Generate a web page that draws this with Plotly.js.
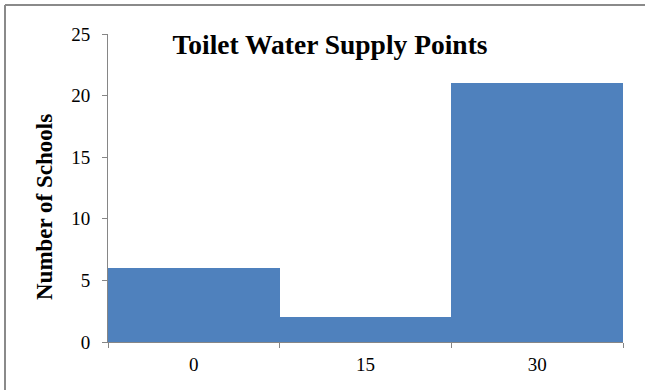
<!DOCTYPE html>
<html>
<head>
<meta charset="utf-8">
<script src="https://cdn.plot.ly/plotly-3.0.1.min.js"></script>
<style>
  html, body { margin: 0; padding: 0; background: #fff; }
  #chart { width: 645px; height: 390px; }
</style>
</head>
<body>
<div id="chart"></div>
<script>
// Toilet water supply points per school
const categories = ['0', '15', '30'];
const schoolCounts = [6, 2, 21];
const yTickValues = [0, 5, 10, 15, 20, 25];

const W = 645, H = 390;
const M = { l: 108, r: 22, t: 34, b: 48 };
const plotW = W - M.l - M.r, plotH = H - M.t - M.b;
const px = x => (x - M.l) / plotW;          // pixel -> paper x
const py = y => (H - M.b - y) / plotH;      // pixel -> paper y

const positions = categories.map((_, i) => i);
const boundaries = [-0.5].concat(positions.map(i => i + 0.5));

const serif = '"Liberation Serif", "Times New Roman", Times, serif';
const axisGray = '#868686';
const tickFont = { family: serif, size: 19, color: '#000' };

const trace = {
  type: 'bar',
  x: positions,
  y: schoolCounts,
  width: 1,
  marker: { color: '#4F81BD', line: { width: 0 } },
  hoverinfo: 'skip'
};

const layout = {
  width: W,
  height: H,
  margin: M,
  paper_bgcolor: '#fff',
  plot_bgcolor: '#fff',
  showlegend: false,
  bargap: 0,
  font: tickFont,
  title: {
    text: '<b>Toilet Water Supply Points</b>',
    font: { family: serif, size: 27.5, color: '#000' },
    xref: 'container', x: 330 / W, xanchor: 'center',
    yref: 'container', y: 1 - 44 / H, yanchor: 'middle'
  },
  xaxis: {
    range: [-0.5, 2.5],
    tickmode: 'array',
    tickvals: positions,
    ticktext: categories,
    ticks: '',
    ticklabelstandoff: 5,
    showgrid: false,
    zeroline: false,
    showline: true,
    linecolor: axisGray,
    linewidth: 1,
    tickfont: tickFont,
    minor: {
      tickmode: 'array',
      tickvals: boundaries,
      ticks: 'outside',
      ticklen: 5,
      tickcolor: axisGray,
      tickwidth: 1,
      showgrid: false
    },
    fixedrange: true
  },
  yaxis: {
    range: [0, 25],
    tickmode: 'array',
    tickvals: yTickValues,
    ticks: 'outside',
    ticklen: 5,
    tickcolor: axisGray,
    ticklabelstandoff: 8,
    showgrid: false,
    zeroline: false,
    showline: true,
    linecolor: axisGray,
    linewidth: 1,
    tickfont: tickFont,
    fixedrange: true
  },
  annotations: [
    { text: '<b>Number of Schools</b>', textangle: -90,
      xref: 'paper', yref: 'paper', x: px(44), y: py(207),
      xanchor: 'center', yanchor: 'middle', showarrow: false,
      font: { family: serif, size: 23, color: '#000' } }
  ],
  shapes: [
    { type: 'line', xref: 'paper', yref: 'paper',
      x0: px(5), x1: px(W + 2), y0: py(5), y1: py(5),
      line: { color: '#8a8a8a', width: 2 } },
    { type: 'line', xref: 'paper', yref: 'paper',
      x0: px(5), x1: px(5), y0: py(5), y1: py(H + 2),
      line: { color: '#8a8a8a', width: 2 } }
  ]
};

Plotly.newPlot('chart', [trace], layout, { displayModeBar: false, staticPlot: true });
</script>
</body>
</html>
